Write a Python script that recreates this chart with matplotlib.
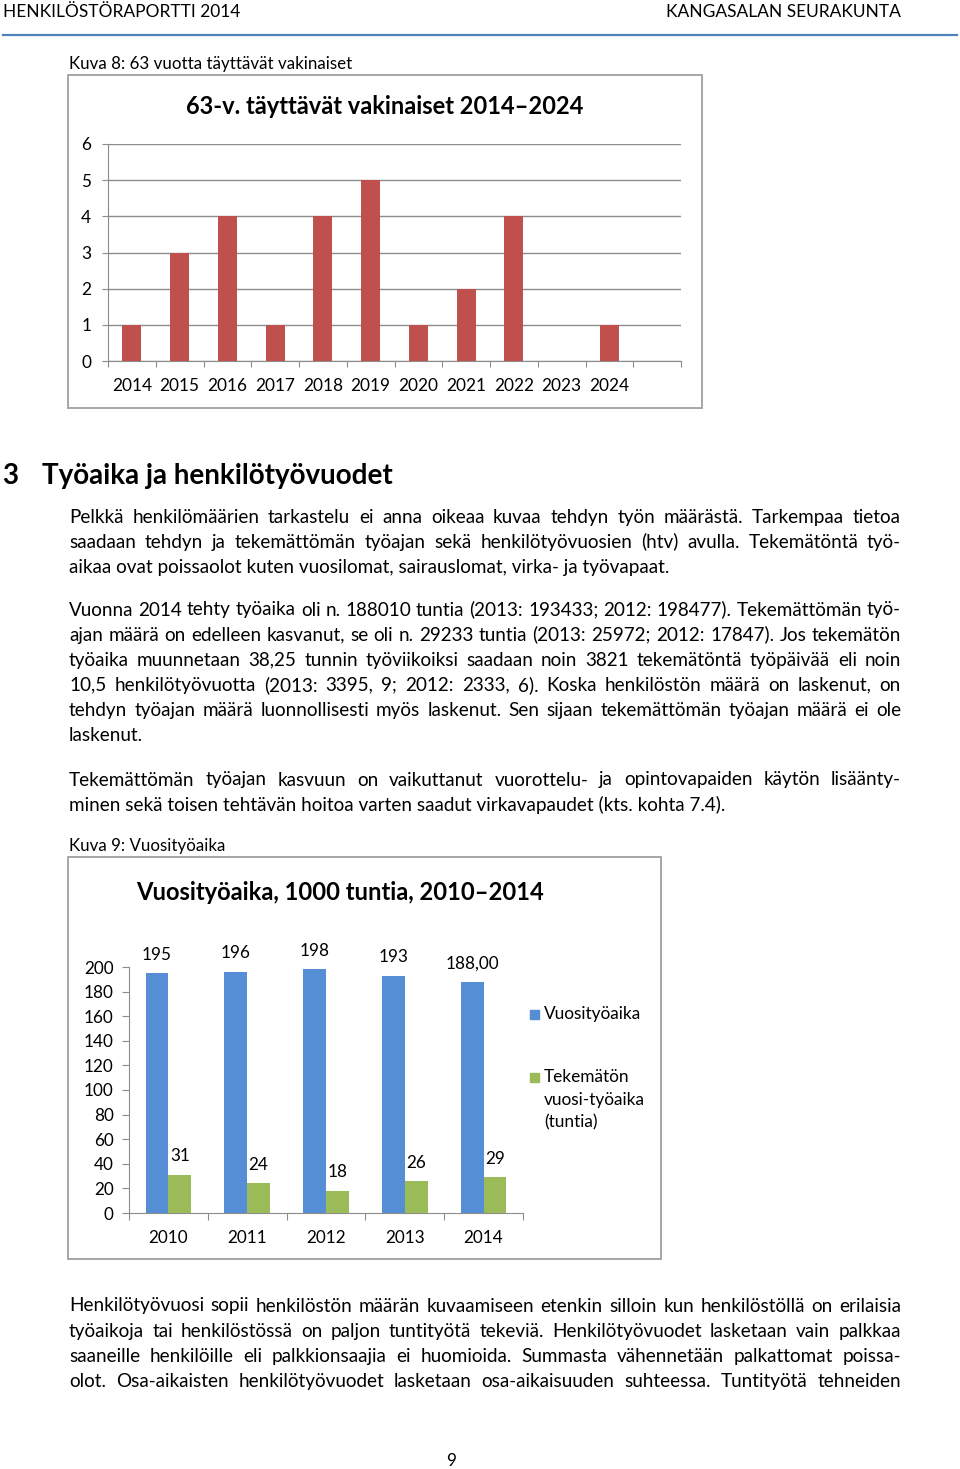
import matplotlib
matplotlib.use("Agg")
import matplotlib.pyplot as plt
from matplotlib.patches import Rectangle
from matplotlib.lines import Line2D

W, H = 960, 1469
FONT = ["Lato", "DejaVu Sans"]
plt.rcParams["font.family"] = FONT

# chart 1: 63-year-olds per year
years1 = ["2014", "2015", "2016", "2017", "2018", "2019", "2020", "2021", "2022", "2023", "2024"]
counts1 = [1, 3, 4, 1, 4, 5, 1, 2, 4, 0, 1]
n_slots1 = 12  # excel left one empty slot at the end

# chart 2: annual working time, 1000 h
years2 = ["2010", "2011", "2012", "2013", "2014"]
worked = [195, 196, 198, 193, 188]
worked_lbl = ["195", "196", "198", "193", "188,00"]
undone = [31, 24, 18, 26, 29]
undone_lbl = ["31", "24", "18", "26", "29"]
series_names = ["Vuosityöaika", "Tekemätön\nvuosi-työaika\n(tuntia)"]

RED = "#C0504D"
BLUE = "#558ED5"
GREEN = "#9BBB59"
GRID = "#8C8C8C"

paragraphs = [
    ["Pelkkä henkilömäärien tarkastelu ei anna oikeaa kuvaa tehdyn työn määrästä. Tarkempaa tietoa",
     "saadaan tehdyn ja tekemättömän työajan sekä henkilötyövuosien (htv) avulla. Tekemätöntä työ-",
     "aikaa ovat poissaolot kuten vuosilomat, sairauslomat, virka- ja työvapaat."],
    ["Vuonna 2014 tehty työaika oli n. 188010 tuntia (2013: 193433; 2012: 198477). Tekemättömän työ-",
     "ajan määrä on edelleen kasvanut, se oli n. 29233 tuntia (2013: 25972; 2012: 17847). Jos tekemätön",
     "työaika muunnetaan 38,25 tunnin työviikoiksi saadaan noin 3821 tekemätöntä työpäivää eli noin",
     "10,5 henkilötyövuotta (2013: 3395, 9; 2012: 2333, 6). Koska henkilöstön määrä on laskenut, on",
     "tehdyn työajan määrä luonnollisesti myös laskenut. Sen sijaan tekemättömän työajan määrä ei ole",
     "laskenut."],
    ["Tekemättömän työajan kasvuun on vaikuttanut vuorottelu- ja opintovapaiden käytön lisäänty-",
     "minen sekä toisen tehtävän hoitoa varten saadut virkavapaudet (kts. kohta 7.4)."],
    ["Henkilötyövuosi sopii henkilöstön määrän kuvaamiseen etenkin silloin kun henkilöstöllä on erilaisia",
     "työaikoja tai henkilöstössä on paljon tuntityötä tekeviä. Henkilötyövuodet lasketaan vain palkkaa",
     "saaneille henkilöille eli palkkionsaajia ei huomioida. Summasta vähennetään palkattomat poissa-",
     "olot. Osa-aikaisten henkilötyövuodet lasketaan osa-aikaisuuden suhteessa. Tuntityötä tehneiden"],
]
para_tops = [516, 609, 779, 1305]
para_last_justified = [False, False, False, True]

fig = plt.figure(figsize=(W / 100, H / 100), dpi=100)
renderer = fig.canvas.get_renderer()


def fx(x):
    return x / W


def fy(y):
    return 1 - y / H


def txt(x, y, s, **kw):
    kw.setdefault("va", "center")
    kw.setdefault("fontsize", 12.4)
    return fig.text(fx(x), fy(y), s, **kw)


def width_px(s, size):
    t = fig.text(0, 0, s, fontsize=size)
    w = t.get_window_extent(renderer).width
    t.remove()
    return w


# header
txt(3, 12, "HENKILÖSTÖRAPORTTI 2014", fontsize=12.5)
txt(901, 12, "KANGASALAN SEURAKUNTA", ha="right", fontsize=12.5)
fig.add_artist(Line2D([fx(3), fx(957)], [fy(35), fy(35)], color="#4F81BD", lw=1.6))

# captions
txt(69, 64, "Kuva 8: 63 vuotta täyttävät vakinaiset", fontsize=12.2)
txt(69, 846, "Kuva 9: Vuosityöaika", fontsize=12.2)

# chart frames
for (x0, y0, x1, y1) in [(68, 75, 702, 408), (68, 857, 661, 1259)]:
    fig.add_artist(Rectangle((fx(x0), fy(y1)), fx(x1) - fx(x0), fy(y0) - fy(y1),
                             fill=False, edgecolor="#A6A6A6", lw=1.4))

# ---- chart 1 ----
ax1 = fig.add_axes([fx(108), fy(361), fx(681) - fx(108), fy(144) - fy(361)])
pos1 = [i + 0.5 for i in range(len(years1))]
ax1.bar(pos1, counts1, width=0.4, color=RED, zorder=3)
ax1.set_xlim(0, n_slots1)
ax1.set_ylim(0, 6)
ax1.set_yticks(range(0, 7))
ax1.yaxis.grid(True, color=GRID, lw=1)
ax1.set_xticks(range(0, n_slots1 + 1))
ax1.set_xticklabels([])
ax1.set_xticks(pos1, minor=True)
ax1.set_xticklabels(years1, minor=True)
ax1.tick_params(axis="x", which="major", length=4, color=GRID, direction="out")
ax1.tick_params(axis="x", which="minor", length=0, pad=12, labelsize=12.4)
ax1.tick_params(axis="y", length=4, color=GRID, pad=8, labelsize=12.4)
for s in ["top", "right"]:
    ax1.spines[s].set_visible(False)
for s in ["left", "bottom"]:
    ax1.spines[s].set_color(GRID)
ax1.set_facecolor("none")
txt(385, 106, "63-v. täyttävät vakinaiset 2014–2024", ha="center", fontsize=17, fontweight="bold")

# ---- chart 2 ----
ax2 = fig.add_axes([fx(129), fy(1213), fx(523) - fx(129), fy(967) - fy(1213)])
pos2 = [i + 0.5 for i in range(len(years2))]
bw = 0.29
b1 = ax2.bar([p - bw / 2 for p in pos2], worked, width=bw, color=BLUE, zorder=3)
b2 = ax2.bar([p + bw / 2 for p in pos2], undone, width=bw, color=GREEN, zorder=3)
for bars, labels in [(b1, worked_lbl), (b2, undone_lbl)]:
    for rect, lab in zip(bars, labels):
        ax2.annotate(lab, (rect.get_x() + rect.get_width() / 2, rect.get_height()),
                     xytext=(0, 13.3), textcoords="offset points",
                     ha="center", va="center", fontsize=12.3)
ax2.set_xlim(0, len(years2))
ax2.set_ylim(0, 200)
ax2.set_yticks(range(0, 201, 20))
ax2.set_xticks(range(0, len(years2) + 1))
ax2.set_xticklabels([])
ax2.set_xticks(pos2, minor=True)
ax2.set_xticklabels(years2, minor=True)
ax2.tick_params(axis="x", which="major", length=5, color=GRID, direction="out")
ax2.tick_params(axis="x", which="minor", length=0, pad=12, labelsize=12.3)
ax2.tick_params(axis="y", length=5, color=GRID, pad=6, labelsize=12.3)
for s in ["top", "right"]:
    ax2.spines[s].set_visible(False)
for s in ["left", "bottom"]:
    ax2.spines[s].set_color(GRID)
ax2.set_facecolor("none")
txt(340, 893, "Vuosityöaika, 1000 tuntia, 2010–2014", ha="center", fontsize=17.1, fontweight="bold")

# legend, drawn by hand so the square sits on the first line
for (ly, col, name) in [(1014, BLUE, series_names[0]), (1077, GREEN, series_names[1])]:
    fig.add_artist(Rectangle((fx(529.5), fy(ly + 4.5)), fx(9), 9 / H, color=col))
    for i, part in enumerate(name.split("\n")):
        txt(544, ly + i * 22.6, part, fontsize=12.4)

# ---- body text ----
txt(2, 476, "3", fontsize=20, fontweight="bold")
txt(42, 476, "Työaika ja henkilötyövuodet", fontsize=20, fontweight="bold")

LEFT, RIGHT, LINE_H = 69, 901, 25.1
all_lines = [ln for p in paragraphs for ln in p]
body_size = 13.9
widest = max(width_px(ln, body_size) for ln in all_lines)
if widest > (RIGHT - LEFT) * 0.995:
    body_size *= (RIGHT - LEFT) * 0.995 / widest

for p, top, last_just in zip(paragraphs, para_tops, para_last_justified):
    for k, line in enumerate(p):
        y = top + k * LINE_H + 6.5
        words = line.split(" ")
        is_last = (k == len(p) - 1) and not last_just
        if is_last or len(words) == 1:
            fig.text(fx(LEFT), fy(y), line, fontsize=body_size, va="baseline")
            continue
        ws = [width_px(w, body_size) for w in words]
        gap = (RIGHT - LEFT - sum(ws)) / (len(words) - 1)
        x = LEFT
        for w, wd in zip(words, ws):
            fig.text(fx(x), fy(y), w, fontsize=body_size, va="baseline")
            x += wd + gap

txt(451, 1461, "9", ha="center", fontsize=12.4)

fig.savefig("out.png", dpi=100)
